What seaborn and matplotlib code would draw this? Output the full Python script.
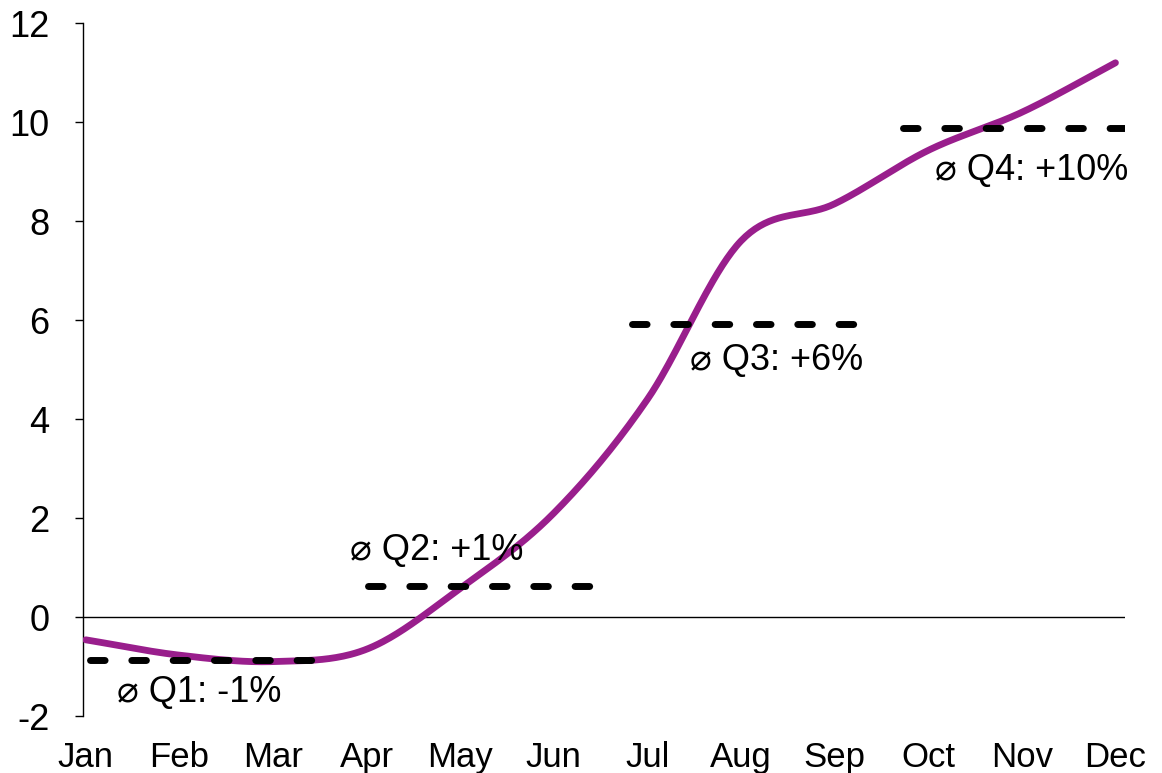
import numpy as np
import pandas as pd
import matplotlib
matplotlib.use("Agg")
import matplotlib.pyplot as plt
import seaborn as sns

# Monthly values (%)
months = ["Jan", "Feb", "Mar", "Apr", "May", "Jun",
          "Jul", "Aug", "Sep", "Oct", "Nov", "Dec"]
values = [-0.46, -0.77, -0.90, -0.65, 0.58, 2.10,
          4.40, 7.60, 8.35, 9.43, 10.20, 11.20]

# Quarterly averages (%)
quarters = ["Q1", "Q2", "Q3", "Q4"]
quarter_avg = [-0.87, 0.63, 5.92, 9.88]

sns.set_theme(style="white")
plt.rcParams["font.family"] = ["Liberation Sans", "DejaVu Sans"]
plt.rcParams["axes.unicode_minus"] = False

PURPLE = "#991E8C"


def smooth_curve(y, per_segment=40):
    """Catmull-Rom smoothing through every point (smoothed-line rendering)."""
    y = np.asarray(y, dtype=float)
    x = np.arange(len(y), dtype=float)
    p = np.concatenate([[2 * y[0] - y[1]], y, [2 * y[-1] - y[-2]]])
    xs, ys = [], []
    for i in range(len(y) - 1):
        p0, p1, p2, p3 = p[i], p[i + 1], p[i + 2], p[i + 3]
        t = np.linspace(0, 1, per_segment, endpoint=False)
        seg = 0.5 * ((2 * p1) + (-p0 + p2) * t
                     + (2 * p0 - 5 * p1 + 4 * p2 - p3) * t ** 2
                     + (-p0 + 3 * p1 - 3 * p2 + p3) * t ** 3)
        xs.append(x[i] + t)
        ys.append(seg)
    xs.append([x[-1]])
    ys.append([y[-1]])
    return np.concatenate(xs), np.concatenate(ys)


fig = plt.figure(figsize=(11.62, 7.73), dpi=100)
ax = fig.add_axes([0.0714, 0.0737, 0.8966, 0.8963])

# Zero line
ax.axhline(0, color="black", lw=1.0, zorder=1)

# Smoothed monthly line
sx, sy = smooth_curve(values)
curve = pd.DataFrame({"x": sx, "y": sy})
sns.lineplot(data=curve, x="x", y="y", ax=ax, color=PURPLE, lw=4.9,
             solid_capstyle="round", zorder=3, sort=False)

# Quarterly average segments and labels
spans = [(0.04, 2.52), (3.01, 5.49), (5.83, 8.32), (8.73, 11.2)]
label_pos = [(0.33, -1.52), (2.82, 1.35), (6.45, 5.19), (9.07, 9.03)]
for q, avg, (x0, x1), (lx, ly) in zip(quarters, quarter_avg, spans, label_pos):
    seg = pd.DataFrame({"x": [x0, x1], "y": [avg, avg]})
    sns.lineplot(data=seg, x="x", y="y", ax=ax, color="black", lw=5.0,
                 dashes=False, zorder=4)
    ax.lines[-1].set_dashes((2.1, 3.85))
    ax.lines[-1].set_dash_capstyle("round")
    ax.text(lx, ly, f"\u2300 {q}: {avg:+.0f}%", fontsize=26,
            ha="left", va="center", color="black", zorder=5)

ax.set_xlim(-0.03, 11.1)
ax.set_ylim(-2, 12)
ax.set_xticks(range(len(months)))
ax.set_xticklabels(months)
ax.set_yticks(range(-2, 13, 2))
ax.set_xlabel("")
ax.set_ylabel("")

for side in ["top", "right", "bottom"]:
    ax.spines[side].set_visible(False)
ax.spines["left"].set_color("black")
ax.spines["left"].set_linewidth(1.0)

ax.tick_params(axis="y", length=6, width=1.0, color="black", left=True,
               labelsize=26, pad=18, labelcolor="black")
ax.tick_params(axis="x", length=0, labelsize=25, pad=18, labelcolor="black")
ax.grid(False)

fig.savefig("out.png", dpi=100)
